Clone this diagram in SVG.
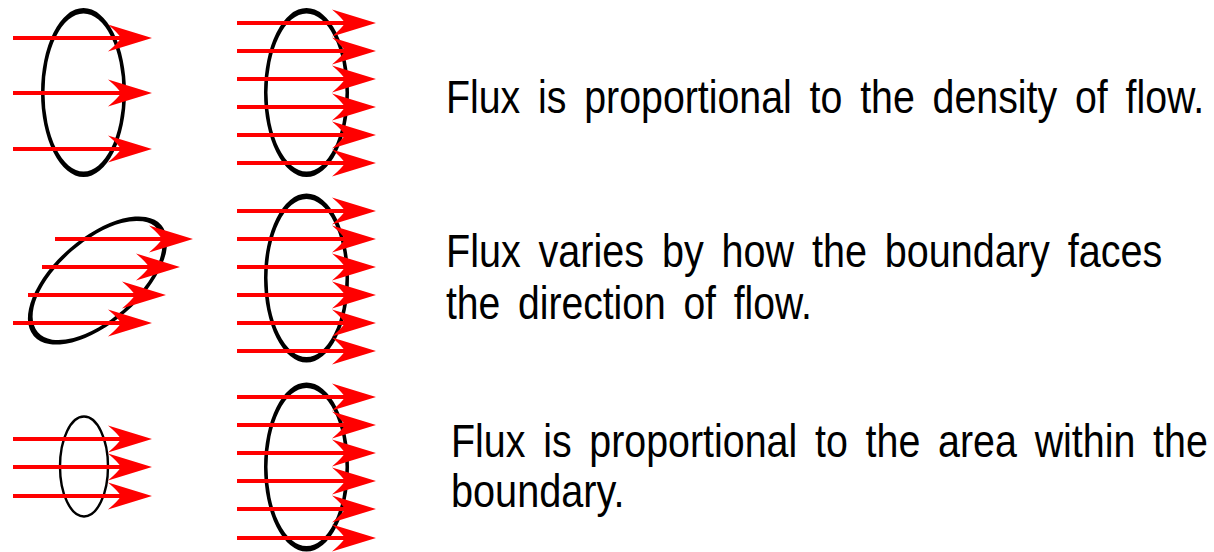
<svg xmlns="http://www.w3.org/2000/svg" xmlns:xlink="http://www.w3.org/1999/xlink" width="1214" height="552" viewBox="0 0 1214 552">
<style>
.ring{fill:#000;fill-rule:evenodd;stroke:none}
.thin{fill:none;stroke:#000;stroke-width:2.4}
.flow{stroke:#ff0000;stroke-width:4;fill:none;marker-end:url(#head)}
.lbl{font-family:"Liberation Sans",Arial,sans-serif;font-size:46px;fill:#000;word-spacing:8px}
</style>
<defs>
<marker id="head" viewBox="-46 -15 48 30" markerWidth="48" markerHeight="30" refX="-28" refY="0" orient="auto" markerUnits="userSpaceOnUse" overflow="visible">
<path d="M0,0 L-44,-13.5 Q-34,-5 -31,0 Q-34,5 -44,13.5 Z" fill="#ff0000"/>
</marker>
<path id="bigring" class="ring" d="M-42.5,0 a42.5,84.5 0 1,0 85,0 a42.5,84.5 0 1,0 -85,0 Z M-39,0 a39,79 0 1,0 78,0 a39,79 0 1,0 -78,0 Z"/>
</defs>
<rect width="1214" height="552" fill="#fff"/>

<g id="panel1">
<use xlink:href="#bigring" transform="translate(83.5,92.5)"/>
</g>
<g id="panel2">
<use xlink:href="#bigring" transform="translate(306.5,92.5)"/>
</g>
<g id="panel3">
<use xlink:href="#bigring" transform="translate(97.5,280.5) rotate(49)"/>
</g>
<g id="panel4">
<use xlink:href="#bigring" transform="translate(306.5,278)"/>
</g>
<g id="panel5">
<ellipse class="thin" cx="84" cy="466.5" rx="24" ry="50"/>
</g>
<g id="panel6">
<use xlink:href="#bigring" transform="translate(306.5,467)"/>
</g>

<g id="connectors">
<line class="flow" x1="13" y1="38" x2="124" y2="38"/>
<line class="flow" x1="13" y1="93" x2="124" y2="93"/>
<line class="flow" x1="13" y1="149" x2="124" y2="149"/>

<line class="flow" x1="237" y1="23" x2="348" y2="23"/>
<line class="flow" x1="237" y1="51" x2="348" y2="51"/>
<line class="flow" x1="237" y1="79" x2="348" y2="79"/>
<line class="flow" x1="237" y1="107" x2="348" y2="107"/>
<line class="flow" x1="237" y1="135" x2="348" y2="135"/>
<line class="flow" x1="237" y1="163" x2="348" y2="163"/>

<line class="flow" x1="55" y1="239" x2="165" y2="239"/>
<line class="flow" x1="42" y1="267" x2="152" y2="267"/>
<line class="flow" x1="28" y1="295" x2="138" y2="295"/>
<line class="flow" x1="13" y1="323" x2="124" y2="323"/>

<line class="flow" x1="237" y1="211" x2="348" y2="211"/>
<line class="flow" x1="237" y1="239" x2="348" y2="239"/>
<line class="flow" x1="237" y1="267" x2="348" y2="267"/>
<line class="flow" x1="237" y1="295" x2="348" y2="295"/>
<line class="flow" x1="237" y1="323" x2="348" y2="323"/>
<line class="flow" x1="237" y1="351" x2="348" y2="351"/>

<line class="flow" x1="13" y1="439" x2="124" y2="439"/>
<line class="flow" x1="13" y1="467" x2="124" y2="467"/>
<line class="flow" x1="13" y1="496" x2="124" y2="496"/>

<line class="flow" x1="237" y1="397" x2="348" y2="397"/>
<line class="flow" x1="237" y1="425" x2="348" y2="425"/>
<line class="flow" x1="237" y1="453" x2="348" y2="453"/>
<line class="flow" x1="237" y1="481" x2="348" y2="481"/>
<line class="flow" x1="237" y1="509" x2="348" y2="509"/>
<line class="flow" x1="237" y1="538" x2="348" y2="538"/>
</g>

<g id="text1">
<text class="lbl" transform="translate(446,113) scale(0.855,1)">Flux is proportional to the density of flow.</text>
</g>
<g id="text2">
<text class="lbl" transform="translate(446,267) scale(0.86,1)">Flux varies by how the boundary faces</text>
<text class="lbl" transform="translate(446,319) scale(0.85,1)">the direction of flow.</text>
</g>
<g id="text3">
<text class="lbl" transform="translate(451,457) scale(0.856,1)">Flux is proportional to the area within the</text>
<text class="lbl" transform="translate(451,507) scale(0.862,1)">boundary.</text>
</g>
</svg>
